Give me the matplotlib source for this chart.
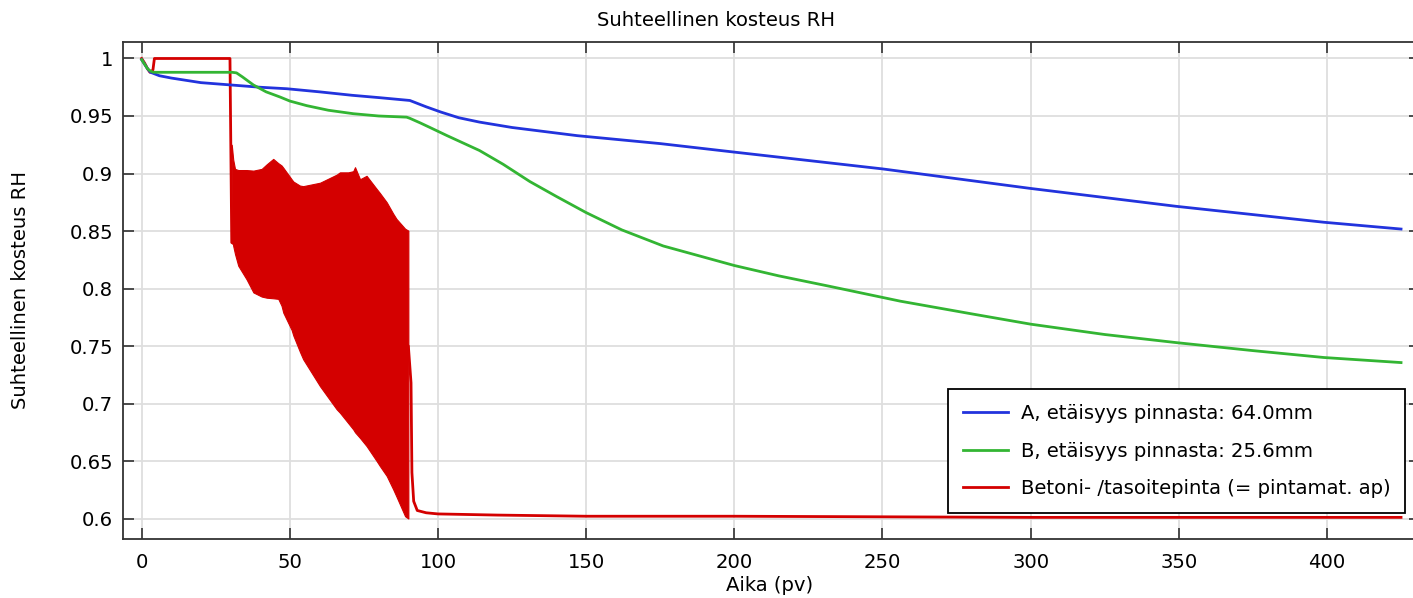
import matplotlib
matplotlib.use("Agg")
import matplotlib.pyplot as plt

# ---- data ----
days_a = [0, 1, 2, 3, 4, 6, 10, 15, 20, 30, 40, 49, 60, 71, 80, 90.5, 96, 101, 107, 114, 125, 147, 175, 200, 250, 300, 349, 399, 425]
rh_a = [0.999, 0.995, 0.991, 0.988, 0.987, 0.985, 0.983, 0.981, 0.979, 0.977, 0.975, 0.9737, 0.971, 0.968, 0.966, 0.9635, 0.958, 0.9534, 0.9485, 0.9447, 0.940, 0.9329, 0.926, 0.9186, 0.904, 0.887, 0.8715, 0.8576, 0.8517]

days_b = [0, 1, 2, 3, 4, 10, 20, 30.5, 32, 34, 37.7, 42, 46.7, 50, 55.7, 63, 71.4, 80, 89.4, 90.5, 94, 97.3, 103, 114, 122, 131, 140, 150, 162, 176, 200, 215, 232, 256, 280, 300, 325, 349, 375, 399, 425]
rh_b = [0.999, 0.995, 0.991, 0.989, 0.988, 0.988, 0.988, 0.988, 0.9875, 0.984, 0.977, 0.971, 0.9665, 0.963, 0.959, 0.955, 0.952, 0.950, 0.949, 0.948, 0.944, 0.940, 0.933, 0.920, 0.908, 0.893, 0.880, 0.866, 0.851, 0.837, 0.820, 0.811, 0.802, 0.789, 0.778, 0.769, 0.760, 0.753, 0.746, 0.740, 0.7356]

days_c = [0, 1, 2, 2.8, 3.8, 4.3, 10, 20, 29.8, 30.4, 90.0, 90.9, 91.2, 91.8, 93, 96, 100, 120, 150, 200, 300, 425]
rh_c = [1.0, 0.996, 0.991, 0.988, 0.990, 1.0, 1.0, 1.0, 1.0, 0.84, 0.75, 0.718, 0.64, 0.615, 0.607, 0.605, 0.604, 0.603, 0.602, 0.602, 0.601, 0.601]

# oscillating band of the red curve (upper and lower envelopes)
band_days = [30.4, 30.9, 31.5, 32.6, 35.4, 37.7, 40.5, 42.2, 44.4, 46.1, 47.2, 47.8, 50.6, 51.2, 53.4, 54.5, 60.2, 65.8, 66.9, 69.7, 71.4, 72.0, 73.7, 75.9, 79.3, 80.4, 82.7, 84.9, 86.0, 88.9, 90.0]
band_upper = [0.925, 0.912, 0.904, 0.903, 0.903, 0.9025, 0.904, 0.908, 0.9127, 0.909, 0.907, 0.905, 0.895, 0.893, 0.8895, 0.889, 0.892, 0.899, 0.901, 0.901, 0.902, 0.9055, 0.895, 0.898, 0.8866, 0.883, 0.875, 0.865, 0.8605, 0.852, 0.8503]
band_lower = [0.845, 0.837, 0.830, 0.8198, 0.808, 0.7966, 0.793, 0.792, 0.7915, 0.791, 0.785, 0.779, 0.764, 0.759, 0.745, 0.7385, 0.715, 0.695, 0.692, 0.683, 0.6775, 0.675, 0.670, 0.663, 0.650, 0.6456, 0.637, 0.6253, 0.619, 0.602, 0.600]

labels = ["A, etäisyys pinnasta: 64.0mm",
          "B, etäisyys pinnasta: 25.6mm",
          "Betoni- /tasoitepinta (= pintamat. ap)"]
xticks = [0, 50, 100, 150, 200, 250, 300, 350, 400]
yticks = [0.6, 0.65, 0.7, 0.75, 0.8, 0.85, 0.9, 0.95, 1.0]
ytick_labels = ["0.6", "0.65", "0.7", "0.75", "0.8", "0.85", "0.9", "0.95", "1"]

c_blue = "#2233dd"
c_green = "#33b533"
c_red = "#d40000"

plt.rcParams['font.family'] = ['DejaVu Sans']
fs = 14.1
lw = 2.0

W, H = 1413, 598
fig = plt.figure(figsize=(W/100, H/100), dpi=100)
ax_left, ax_right, ax_top, ax_bottom = 122.7, 1420.0, 41.7, 539.0
aw, ah = ax_right - ax_left, ax_bottom - ax_top
ax = fig.add_axes([ax_left/W, (H-ax_bottom)/H, aw/W, ah/H])

ax.plot(days_a, rh_a, color=c_blue, lw=lw, label=labels[0], zorder=4)
ax.plot(days_b, rh_b, color=c_green, lw=lw, label=labels[1], zorder=4)
ax.fill_between(band_days, band_lower, band_upper, color=c_red, lw=0.8, edgecolor=c_red, zorder=3)
ax.plot(days_c, rh_c, color=c_red, lw=lw, label=labels[2], zorder=3)

ax.set_xlim(-6.4, 431.4)
ax.set_ylim(0.5822, 1.0146)
ax.set_xticks(xticks)
ax.set_xticklabels([str(t) for t in xticks], fontsize=fs)
ax.set_yticks(yticks)
ax.set_yticklabels(ytick_labels, fontsize=fs)
ax.tick_params(axis='both', direction='in', length=8, width=1.1, color='#222222',
               top=True, right=True)
ax.tick_params(axis='x', pad=10)
ax.tick_params(axis='y', pad=7)
ax.grid(True, color='#dedede', lw=1.3)
ax.set_axisbelow(True)
for s in ax.spines.values():
    s.set_color('#333333')
    s.set_linewidth(1.3)

ax.set_xlabel("Aika (pv)", fontsize=fs)
ax.xaxis.set_label_coords((770 - ax_left)/aw, -(576 - ax_bottom)/ah)
ax.set_ylabel("Suhteellinen kosteus RH", fontsize=fs)
ax.yaxis.set_label_coords(-(ax_left - 30)/aw, 0.5)
fig.text(716/W, 1 - 20/H, "Suhteellinen kosteus RH", ha='center', va='center', fontsize=fs)

# legend box right edge ~1405px, bottom ~513px
leg_x = (1405 - ax_left) / aw
leg_y = (ax_bottom - 513) / ah
leg = ax.legend(loc='lower right', bbox_to_anchor=(leg_x, leg_y), fontsize=fs,
                frameon=True, fancybox=False, framealpha=1, edgecolor='black',
                handlelength=2.3, labelspacing=0.95, borderpad=0.75, handletextpad=0.65,
                borderaxespad=0)
leg.get_frame().set_linewidth(1.3)

fig.savefig("out.png", dpi=100)
